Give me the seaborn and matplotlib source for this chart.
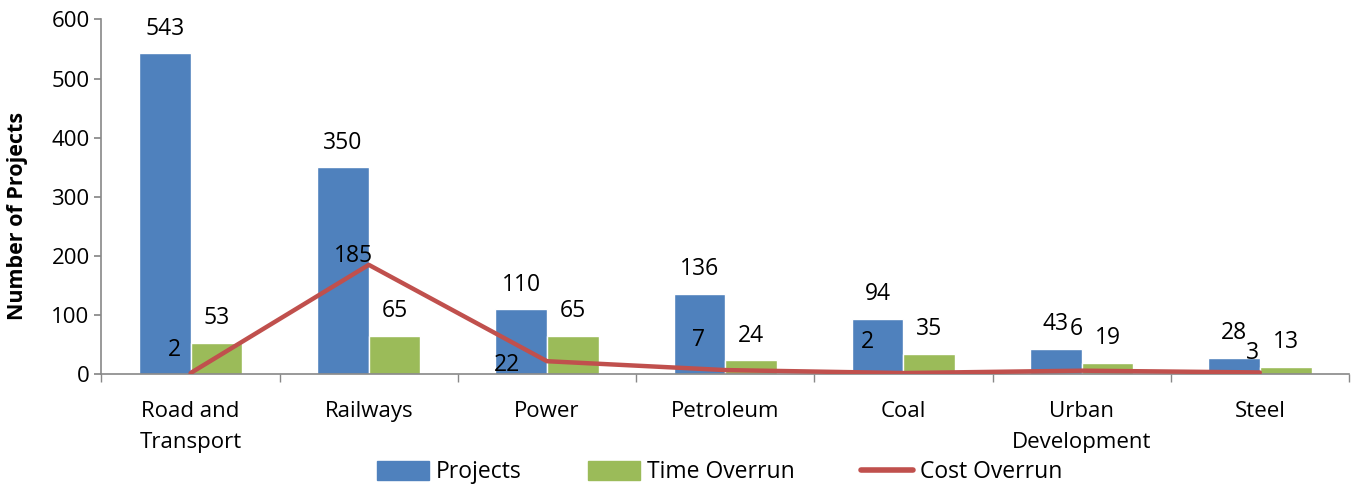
import pandas as pd
import matplotlib
matplotlib.use("Agg")
import matplotlib.pyplot as plt
import seaborn as sns
from matplotlib.patches import Patch
from matplotlib.lines import Line2D

# Datos
sectors = ["Road and\nTransport", "Railways", "Power", "Petroleum", "Coal",
           "Urban\nDevelopment", "Steel"]
projects = [543, 350, 110, 136, 94, 43, 28]
time_overrun = [53, 65, 65, 24, 35, 19, 13]
cost_overrun = [2, 185, 22, 7, 2, 6, 3]

# desplazamiento de las etiquetas de la línea (puntos)
cost_label_dx = [-11.5, -11, -29, -19.5, -26, -3.6, -5]
cost_label_dy = [16.5, 6.5, -3, 21.6, 22, 30, 14]

blue, green, red = "#4F81BD", "#9BBB59", "#C0504D"

sns.set_theme(style="white")
plt.rcParams["font.family"] = ["Open Sans", "DejaVu Sans"]
plt.rcParams["text.color"] = "black"
plt.rcParams["axes.labelcolor"] = "black"

df = pd.DataFrame({
    "sector": sectors * 2,
    "serie": ["Projects"] * 7 + ["Time Overrun"] * 7,
    "valor": projects + time_overrun,
})

fig = plt.figure(figsize=(13.53, 4.86), dpi=100)
ax = fig.add_axes([0.075, 0.23, 0.922, 0.73])

sns.barplot(data=df, x="sector", y="valor", hue="serie", order=sectors,
            palette=[blue, green], width=0.58, saturation=1, ax=ax,
            legend=False)
for c in ax.containers:
    ax.bar_label(c, padding=9, fontsize=16.5, color="black")

xs = list(range(len(sectors)))
ax.plot(xs, cost_overrun, color=red, lw=3.2, solid_capstyle="round", zorder=3)
for x, v, dx, dy in zip(xs, cost_overrun, cost_label_dx, cost_label_dy):
    ax.annotate(str(v), (x, v), xytext=(dx, dy), textcoords="offset points",
                ha="center", va="center", fontsize=16.5, color="black")

ax.set_xlim(-0.5, len(sectors) - 0.5)
ax.set_ylim(0, 600)
ax.set_yticks(range(0, 601, 100))
ax.set_xlabel("")
ax.set_ylabel("Number of Projects", fontsize=15.5, fontweight="bold")
ax.yaxis.set_label_coords(-0.059, 0.446)
ax.tick_params(axis="y", labelsize=16, length=5, color="#888888", labelcolor="black",
               direction="out", left=True)
ax.tick_params(axis="x", labelsize=16, length=0, pad=19, labelcolor="black")
ax.set_xticks(xs)
ax.set_xticklabels(sectors, linespacing=1.65)
ax.set_xticks([i + 0.5 for i in range(-1, len(sectors))], minor=True)
ax.tick_params(axis="x", which="minor", length=6, color="#888888", bottom=True)
for s in ["top", "right"]:
    ax.spines[s].set_visible(False)
for s in ["left", "bottom"]:
    ax.spines[s].set_color("#888888")
    ax.spines[s].set_linewidth(1.2)

handles = [Patch(color=blue), Patch(color=green), Line2D([], [], color=red, lw=4)]
fig.legend(handles, ["Projects", "Time Overrun", "Cost Overrun"], loc="center",
           bbox_to_anchor=(0.532, 0.028), ncol=3, frameon=False, fontsize=16.5,
           handlelength=2.27, handleheight=0.92, handletextpad=0.3, columnspacing=2.9)

fig.savefig("out.png", dpi=100)
